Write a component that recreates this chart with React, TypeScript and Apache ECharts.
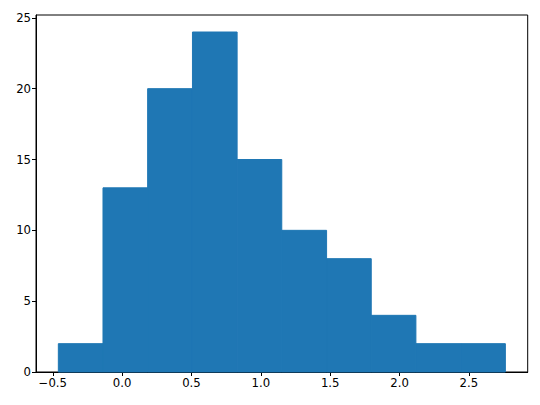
import React, { useEffect, useRef } from "react";
import * as echarts from "echarts";

const binEdges = [-0.46, -0.138, 0.184, 0.507, 0.829, 1.151, 1.474, 1.796, 2.118, 2.441, 2.763];
const counts = [2, 13, 20, 24, 15, 10, 8, 4, 2, 2];
const xTicks = [-0.5, 0.0, 0.5, 1.0, 1.5, 2.0, 2.5];
const yTicks = [0, 5, 10, 15, 20, 25];

const fmtX = (v: number) => (v < 0 ? "\u2212" + Math.abs(v).toFixed(1) : v.toFixed(1));

export default function App() {
  const ref = useRef<HTMLDivElement>(null);
  useEffect(() => {
    if (!ref.current) return;
    const chart = echarts.init(ref.current, null, { renderer: "svg" });
    const data = counts.map((c, i) => [binEdges[i], binEdges[i + 1], c]);
    const font = "DejaVu Sans";
    chart.setOption({
      animation: false,
      backgroundColor: "#fff",
      grid: {
        left: 36,
        top: 15,
        right: 12.3,
        bottom: 33,
        show: true,
        borderColor: "#000",
        borderWidth: 1,
        backgroundColor: "transparent",
      },
      xAxis: {
        type: "value",
        min: -0.621,
        max: 2.924,
        splitLine: { show: false },
        axisLine: { show: true, onZero: false, lineStyle: { color: "#000", width: 1 } },
        axisTick: { show: true, length: 4, lineStyle: { color: "#000" }, customValues: xTicks },
        axisLabel: {
          customValues: xTicks,
          formatter: (v: number) => fmtX(v),
          color: "#000",
          fontFamily: font,
          fontSize: 11.7,
          margin: 5,
        },
      },
      yAxis: {
        type: "value",
        min: 0,
        max: 25.2,
        splitLine: { show: false },
        axisLine: { show: true, onZero: false, lineStyle: { color: "#000", width: 1 } },
        axisTick: { show: true, length: 4, lineStyle: { color: "#000" }, customValues: yTicks },
        axisLabel: {
          customValues: yTicks,
          formatter: (v: number) => String(v),
          color: "#000",
          fontFamily: font,
          fontSize: 11.7,
          margin: 5,
        },
      },
      series: [
        {
          type: "custom",
          data,
          encode: { x: [0, 1], y: 2 },
          renderItem: (params: any, api: any) => {
            const x0 = api.value(0);
            const x1 = api.value(1);
            const y = api.value(2);
            const p0 = api.coord([x0, y]);
            const p1 = api.coord([x1, 0]);
            return {
              type: "rect",
              shape: { x: p0[0], y: p0[1], width: p1[0] - p0[0], height: p1[1] - p0[1] },
              style: { fill: "#1f77b4", stroke: "#1f77b4", lineWidth: 1 },
            };
          },
        },
      ],
    });
    return () => chart.dispose();
  }, []);
  return <div ref={ref} style={{ width: 540, height: 405, position: "absolute", left: 0, top: 0 }} />;
}
